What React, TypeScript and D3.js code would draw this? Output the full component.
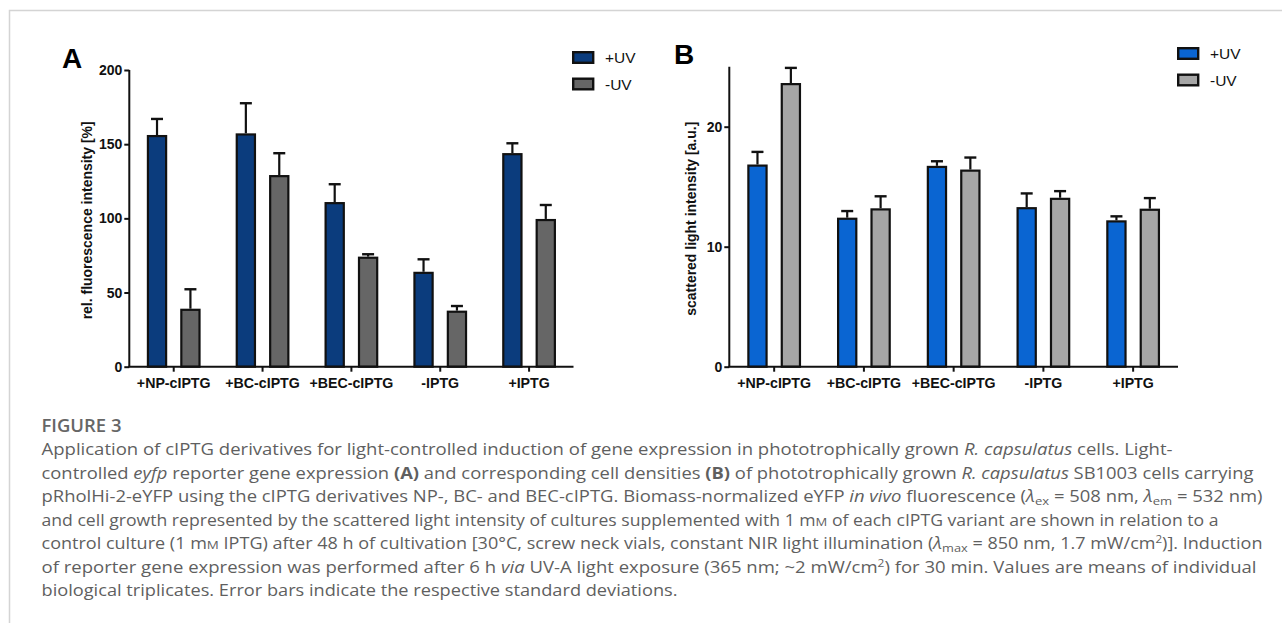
import React, { useRef, useEffect } from 'react';
import { select, scaleBand, scaleLinear, scalePoint, axisLeft, axisBottom } from 'd3';

const width = 1282;
const height = 623;

const categories = ['+NP-cIPTG', '+BC-cIPTG', '+BEC-cIPTG', '-IPTG', '+IPTG'];
const seriesNames = ['+UV', '-UV'];

// panel A: rel. fluorescence intensity [%]
const fluorPlusUV = [156.2, 157.3, 111, 64, 144];
const fluorPlusUVSd = [10.8, 20.3, 12, 8.4, 6.6];
const fluorMinusUV = [39.1, 129.2, 74.2, 37.8, 99.6];
const fluorMinusUVSd = [13.1, 14.7, 1.6, 3.1, 9.4];
const fluorTicks = [0, 50, 100, 150, 200];

// panel B: scattered light intensity [a.u.]
const scatterPlusUV = [16.85, 12.42, 16.74, 13.3, 12.2];
const scatterPlusUVSd = [1.05, 0.55, 0.38, 1.14, 0.33];
const scatterMinusUV = [23.64, 13.2, 16.43, 14.08, 13.17];
const scatterMinusUVSd = [1.26, 1.0, 1.0, 0.55, 0.88];
const scatterTicks = [0, 10, 20];

const captionLines = [
  [['Application of cIPTG derivatives for light-controlled induction of gene expression in phototrophically grown '], ['R. capsulatus', 'i'], [' cells. Light-']],
  [['controlled '], ['eyfp', 'i'], [' reporter gene expression '], ['(A)', 'b'], [' and corresponding cell densities '], ['(B)', 'b'], [' of phototrophically grown '], ['R. capsulatus', 'i'], [' SB1003 cells carrying']],
  [['pRholHi-2-eYFP using the cIPTG derivatives NP-, BC- and BEC-cIPTG. Biomass-normalized eYFP '], ['in vivo', 'i'], [' fluorescence ('], ['λ', 'i'], ['ex', 'sub'], [' = 508 nm, '], ['λ', 'i'], ['em', 'sub'], [' = 532 nm)']],
  [['and cell growth represented by the scattered light intensity of cultures supplemented with 1 m'], ['M', 'sc'], [' of each cIPTG variant are shown in relation to a']],
  [['control culture (1 m'], ['M', 'sc'], [' IPTG) after 48 h of cultivation [30°C, screw neck vials, constant NIR light illumination ('], ['λ', 'i'], ['max', 'sub'], [' = 850 nm, 1.7 mW/cm'], ['2', 'sup'], [')]. Induction']],
  [['of reporter gene expression was performed after 6 h '], ['via', 'i'], [' UV-A light exposure (365 nm; ~2 mW/cm'], ['2', 'sup'], [') for 30 min. Values are means of individual']],
  [['biological triplicates. Error bars indicate the respective standard deviations.']],
];
const captionWidths = [1131, 1212, 1221, 1177, 1221, 1215, 636];

const chartFont = '"Liberation Sans", Arial, sans-serif';
const captionFont = '"Open Sans", sans-serif';

const App = () => {
  const d3svg = useRef(null);

  const drawPanel = (svg, opts) => {
    const { x0, x1, yTop, yBottom, max, ticks, plus, plusSd, minus, minusSd, colors, letter, letterX, letterY, title, titleX, titleLen, legendX, legendY } = opts;

    const x = scaleBand().domain(categories).range([x0, x1]).padding(0);
    const inner = scalePoint().domain(seriesNames).range([-16.7, 16.7]);
    const y = scaleLinear().domain([0, max]).range([yBottom, yTop]);
    const barW = 20.4;

    const g = svg.append('g');

    const rows = [];
    categories.forEach((c, i) => {
      rows.push({ c, s: '+UV', v: plus[i], sd: plusSd[i] });
      rows.push({ c, s: '-UV', v: minus[i], sd: minusSd[i] });
    });
    const cx = d => x(d.c) + x.bandwidth() / 2 + inner(d.s);

    // error bars (upper only)
    g.selectAll('.err').data(rows).join('line')
      .attr('x1', cx).attr('x2', cx)
      .attr('y1', d => y(d.v)).attr('y2', d => y(d.v + d.sd))
      .attr('stroke', '#111').attr('stroke-width', 2.2);
    g.selectAll('.cap').data(rows).join('line')
      .attr('x1', d => cx(d) - 6).attr('x2', d => cx(d) + 6)
      .attr('y1', d => y(d.v + d.sd)).attr('y2', d => y(d.v + d.sd))
      .attr('stroke', '#111').attr('stroke-width', 2.4);

    g.selectAll('.bar').data(rows).join('rect')
      .attr('x', d => cx(d) - barW / 2 + 1.1)
      .attr('y', d => y(d.v) + 1.1)
      .attr('width', barW - 2.2)
      .attr('height', d => y(0) - y(d.v) - 1.1)
      .attr('fill', d => colors[d.s])
      .attr('stroke', '#111')
      .attr('stroke-width', 2.2);

    // axes
    const ya = g.append('g').attr('transform', `translate(${x0},0)`)
      .call(axisLeft(y).tickValues(ticks).tickSize(5).tickPadding(2).tickFormat(d => `${d}`));
    ya.select('.domain').attr('d', `M0,${yBottom}V${yTop}`).attr('stroke', '#111').attr('stroke-width', 2);
    ya.selectAll('.tick line').attr('stroke', '#111').attr('stroke-width', 2);
    ya.selectAll('.tick text').attr('font-family', chartFont).attr('font-weight', 'bold')
      .attr('font-size', 14).attr('fill', '#111');

    const xa = g.append('g').attr('transform', `translate(0,${yBottom})`)
      .call(axisBottom(x).tickSize(5).tickPadding(6));
    xa.select('.domain').attr('d', `M${x0 - 1},0H${x1}`).attr('stroke', '#111').attr('stroke-width', 2);
    xa.selectAll('.tick line').attr('stroke', '#111').attr('stroke-width', 2);
    xa.selectAll('.tick text').attr('font-family', chartFont).attr('font-weight', 'bold')
      .attr('font-size', 14.2).attr('fill', '#111');

    // y title
    g.append('text')
      .attr('transform', `translate(${titleX},${(yTop + yBottom) / 2 + 2}) rotate(-90)`)
      .attr('text-anchor', 'middle')
      .attr('dy', '0.35em')
      .attr('font-family', chartFont).attr('font-weight', 'bold').attr('font-size', 14)
      .attr('textLength', titleLen).attr('lengthAdjust', 'spacingAndGlyphs')
      .attr('fill', '#111')
      .text(title);

    // panel letter
    g.append('text')
      .attr('x', letterX).attr('y', letterY)
      .attr('font-family', chartFont).attr('font-weight', 'bold').attr('font-size', 28)
      .attr('fill', '#000')
      .text(letter);

    // legend
    const legend = g.append('g').selectAll('g').data(seriesNames).join('g')
      .attr('transform', (d, i) => `translate(${legendX},${legendY + i * 26.5})`);
    legend.append('rect')
      .attr('x', 1.2).attr('y', 1.2).attr('width', 20).attr('height', 10.6)
      .attr('fill', d => colors[d]).attr('stroke', '#111').attr('stroke-width', 2.4);
    legend.append('text')
      .attr('x', 33).attr('y', 6.5).attr('dy', '0.36em')
      .attr('font-family', chartFont).attr('font-size', 15.5).attr('fill', '#111')
      .text(d => d);
  };

  useEffect(() => {
    const svg = select(d3svg.current);
    svg.selectAll('*').remove();

    // figure frame
    svg.append('path')
      .attr('d', `M9.5,${height}V10.5H${width}`)
      .attr('fill', 'none').attr('stroke', '#d4d4d4').attr('stroke-width', 1.5);

    drawPanel(svg, {
      x0: 129.3, x1: 573.5, yTop: 70, yBottom: 366.7, max: 200, ticks: fluorTicks,
      plus: fluorPlusUV, plusSd: fluorPlusUVSd, minus: fluorMinusUV, minusSd: fluorMinusUVSd,
      colors: { '+UV': '#0b3c7d', '-UV': '#666666' },
      letter: 'A', letterX: 62, letterY: 68,
      title: 'rel. fluorescence intensity [%]', titleX: 87, titleLen: 198,
      legendX: 572, legendY: 51,
    });
    drawPanel(svg, {
      x0: 729.3, x1: 1178, yTop: 66.7, yBottom: 366.7, max: 25, ticks: scatterTicks,
      plus: scatterPlusUV, plusSd: scatterPlusUVSd, minus: scatterMinusUV, minusSd: scatterMinusUVSd,
      colors: { '+UV': '#0a65d2', '-UV': '#a6a6a6' },
      letter: 'B', letterX: 674, letterY: 63.5,
      title: 'scattered light intensity [a.u.]', titleX: 691, titleLen: 194,
      legendX: 1177, legendY: 47,
    });

    // caption
    svg.append('text')
      .attr('x', 41.5).attr('y', 431.7)
      .attr('font-family', captionFont).attr('font-weight', 600).attr('font-size', 17.5)
      .attr('fill', '#666')
      .attr('textLength', 80).attr('lengthAdjust', 'spacingAndGlyphs')
      .text('FIGURE 3');

    captionLines.forEach((segs, i) => {
      const t = svg.append('text')
        .attr('x', 41.5).attr('y', 455.3 + i * 23.45)
        .attr('font-family', captionFont).attr('font-size', 15.5)
        .attr('fill', '#5f5f5f')
        .attr('textLength', captionWidths[i]).attr('lengthAdjust', 'spacingAndGlyphs');
      segs.forEach(([txt, st]) => {
        const s = t.append('tspan').text(txt);
        if (st === 'i') s.attr('font-style', 'italic');
        if (st === 'b') s.attr('font-weight', 'bold');
        if (st === 'sc') s.attr('font-size', 11.5);
        if (st === 'sub') s.attr('font-size', 11).attr('baseline-shift', '-3');
        if (st === 'sup') s.attr('font-size', 10).attr('baseline-shift', '6');
      });
    });
  }, []);

  return (
    <svg
      ref={d3svg}
      width={width}
      height={height}
      style={{ position: 'absolute', left: 0, top: 0, background: '#fff' }}
    />
  );
};

export default App;
